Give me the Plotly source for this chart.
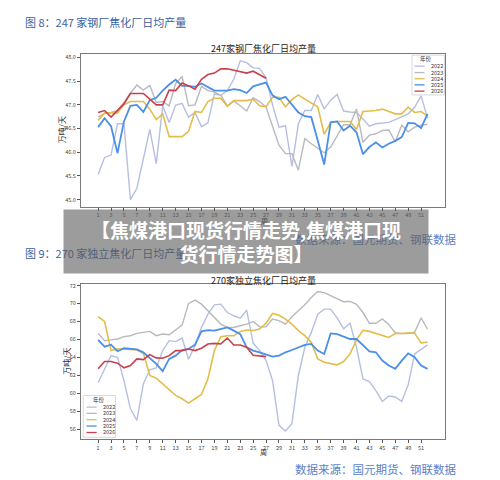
import plotly.graph_objects as go

weeks = list(range(1, 53))
weeks_2026 = list(range(1, 28))
years = ["2022", "2023", "2024", "2025", "2026"]

# Chart 1: 247 steel-mill coking plants (万吨/天)
top_2022 = [45.53, 45.89, 45.94, 46.60, 46.60, 45.00, 45.24, 45.83, 46.48, 45.76,
            46.98, 46.63, 46.99, 47.03, 46.74, 46.84, 46.54, 46.62, 47.23, 47.20,
            47.30, 47.54, 47.93, 47.89, 47.78, 47.77, 47.57, 47.00, 46.53, 46.56,
            45.70, 46.60, 46.88, 46.88, 47.22, 46.91, 47.10, 47.22, 46.87, 46.85,
            46.84, 46.70, 46.55, 46.60, 46.62, 46.63, 46.69, 46.75, 46.81, 46.95,
            47.19, 46.72]
top_2023 = [46.74, 46.82, 46.84, 46.88, 47.05, 47.25, 47.42, 47.31, 47.41, 47.05,
            47.07, 46.98, 47.45, 47.60, 46.98, 47.00, 47.39, 47.30, 47.27, 47.20,
            46.98, 47.08, 46.98, 46.87, 47.15, 47.07, 46.95, 46.56, 46.15, 45.97,
            45.97, 45.62, 46.29, 46.18, 46.08, 45.99, 46.11, 46.36, 46.58, 46.58,
            46.91, 46.21, 46.36, 46.39, 46.46, 46.47, 46.22, 46.57, 46.43, 46.53,
            46.57, 46.59]
top_2024 = [46.67, 46.83, 46.83, 46.83, 47.00, 47.07, 47.07, 47.07, 46.91, 46.69,
            46.81, 46.33, 46.33, 46.33, 46.44, 46.86, 46.84, 47.07, 47.14, 47.14,
            46.97, 47.09, 47.09, 47.09, 47.12, 46.98, 46.96, 47.16, 47.16, 46.96,
            47.11, 47.21, 47.12, 47.04, 46.96, 46.38, 46.63, 46.65, 46.65, 46.65,
            46.48, 46.86, 46.87, 46.88, 46.91, 46.86, 46.81, 46.81, 46.95, 46.84,
            46.86, 46.76]
top_2025 = [46.53, 46.72, 46.55, 45.98, 46.65, 46.98, 47.00, 46.85, 47.10, 47.15,
            47.30, 47.43, 47.53, 47.40, 47.40, 47.38, 47.45, 47.37, 47.30, 47.30,
            47.30, 47.33, 47.31, 47.25, 47.39, 47.43, 47.47, 47.20, 47.12, 47.17,
            47.00, 46.84, 46.76, 46.74, 46.25, 45.74, 46.63, 46.65, 46.46, 46.56,
            46.42, 45.96, 46.11, 46.21, 46.10, 46.18, 46.24, 46.32, 46.62, 46.61,
            46.51, 46.81]
top_2026 = [46.84, 46.88, 46.74, 46.88, 47.02, 47.24, 47.24, 47.24, 47.12, 47.00,
            47.00, 47.31, 47.30, 47.46, 47.40, 47.33, 47.54, 47.64, 47.67, 47.76,
            47.76, 47.73, 47.71, 47.67, 47.71, 47.63, 47.56]

# Chart 2: 270 independent coking plants (万吨/天)
bot_2022 = [61.18, 62.62, 64.21, 64.02, 61.43, 58.29, 57.00, 61.06, 62.62, 62.84,
            64.76, 65.87, 65.76, 66.16, 63.80, 65.31, 67.35, 68.82, 69.86, 69.93,
            69.00, 68.64, 68.38, 69.27, 65.60, 64.76, 63.65, 61.43, 56.44, 55.81,
            56.63, 61.99, 65.13, 66.79, 68.82, 69.38, 69.38, 68.40, 67.20, 67.80,
            65.13, 61.60, 61.30, 60.30, 59.10, 59.70, 59.60, 59.10, 60.95, 64.40,
            64.90, 65.40]
bot_2023 = [66.68, 65.87, 65.95, 66.05, 66.31, 66.42, 66.68, 66.79, 66.90, 66.42,
            66.60, 66.53, 67.05, 67.60, 70.01, 70.38, 69.93, 69.19, 68.45, 67.71,
            67.34, 67.34, 67.53, 67.71, 68.00, 67.40, 67.42, 68.27, 68.10, 67.71,
            68.53, 69.19, 69.86, 70.68, 71.34, 71.22, 70.86, 70.49, 70.20, 70.23,
            69.92, 69.00, 67.80, 67.80, 68.28, 67.65, 66.75, 66.65, 66.65, 66.80,
            68.40, 67.14]
bot_2024 = [68.53, 68.01, 64.76, 64.94, 64.94, 64.87, 64.83, 64.46, 61.99, 61.69,
            61.06, 60.51, 59.77, 59.40, 58.92, 59.40, 59.88, 61.62, 64.76, 66.31,
            66.42, 66.42, 66.90, 67.05, 67.00, 67.16, 67.80, 68.90, 68.70, 68.27,
            67.71, 66.98, 66.42, 65.68, 63.84, 63.47, 63.36, 63.17, 63.54, 64.39,
            65.95, 67.02, 66.90, 66.65, 66.43, 66.22, 66.66, 66.66, 66.75, 66.70,
            65.62, 65.70]
bot_2025 = [65.95, 65.20, 65.42, 64.69, 65.02, 64.94, 64.90, 64.57, 63.95, 63.28,
            62.47, 63.84, 64.20, 64.83, 64.94, 65.42, 66.90, 67.05, 66.98, 67.16,
            67.34, 66.98, 66.60, 65.13, 64.76, 64.57, 64.31, 64.09, 64.20, 64.57,
            64.83, 65.13, 65.39, 65.50, 64.76, 64.39, 66.68, 66.60, 66.31, 66.05,
            66.05, 65.31, 64.68, 64.57, 63.65, 63.10, 62.73, 63.65, 64.46, 64.02,
            63.10, 62.73]
bot_2026 = [62.73, 63.54, 63.54, 63.36, 62.84, 63.10, 63.84, 63.76, 64.31, 63.95,
            63.91, 64.20, 64.76, 64.76, 64.94, 64.76, 65.02, 65.50, 65.57, 65.50,
            66.16, 65.39, 65.39, 65.13, 64.25, 64.15, 64.09]

x_ticks = list(range(1, 52, 2))
top_yticks = [45.0, 45.5, 46.0, 46.5, 47.0, 47.5, 48.0]
bot_yticks = [56, 58, 60, 62, 64, 66, 68, 70, 72]

colors = {"2022": "#b7bfe0", "2023": "#b9b9be", "2024": "#e3bd4a",
          "2025": "#4a8fe8", "2026": "#c9404c"}
widths = {"2022": 1.4, "2023": 1.4, "2024": 1.6, "2025": 1.8, "2026": 1.6}

top_series = [top_2022, top_2023, top_2024, top_2025, top_2026]
bot_series = [bot_2022, bot_2023, bot_2024, bot_2025, bot_2026]

W, H = 500, 480
def px(x):
    return x / W
def py(y):
    return 1 - y / H

CJK = "Noto Sans CJK SC"
fig = go.Figure()

for yr, ys in zip(years, top_series):
    xs = weeks_2026 if yr == "2026" else weeks
    fig.add_trace(go.Scatter(x=xs, y=ys, mode="lines", name=yr, showlegend=False,
                             line=dict(color=colors[yr], width=widths[yr]),
                             xaxis="x", yaxis="y"))
for yr, ys in zip(years, bot_series):
    xs = weeks_2026 if yr == "2026" else weeks
    fig.add_trace(go.Scatter(x=xs, y=ys, mode="lines", name=yr, showlegend=False,
                             line=dict(color=colors[yr], width=widths[yr]),
                             xaxis="x2", yaxis="y2"))

axis_common = dict(showgrid=False, zeroline=False, showline=True, mirror=True,
                   linecolor="#7a7a7a", linewidth=1, ticks="outside", ticklen=3,
                   tickcolor="#555", tickfont=dict(size=5.5, color="#444", family=CJK))

fig.update_layout(
    width=W, height=H, margin=dict(l=0, r=0, t=0, b=0),
    paper_bgcolor="white", plot_bgcolor="white",
    font=dict(family=CJK), showlegend=False,
    xaxis=dict(domain=[px(81), px(445)], range=[-1.65, 54.7], tickvals=x_ticks,
               anchor="y", **axis_common),
    yaxis=dict(domain=[py(205), py(51)], range=[44.85, 48.08], tickvals=top_yticks,
               ticktext=[f"{v:.1f}" for v in top_yticks], anchor="x", **axis_common),
    xaxis2=dict(domain=[px(81), px(445)], range=[-1.65, 54.7], tickvals=x_ticks,
                anchor="y2", **axis_common),
    yaxis2=dict(domain=[py(439), py(283)], range=[54.89, 72.15], tickvals=bot_yticks,
                anchor="x2", **axis_common),
)

shapes = []
ann = []

def add_legend(box, title_xy, line_x, text_x, entry_ys):
    x0, y0, x1, y1 = box
    shapes.append(dict(type="rect", xref="paper", yref="paper", layer="above",
                       x0=px(x0), x1=px(x1), y0=py(y1), y1=py(y0),
                       fillcolor="rgba(255,255,255,0.9)",
                       line=dict(color="#cfcfcf", width=0.8)))
    ann.append(dict(text="年份", x=px(title_xy[0]), y=py(title_xy[1]), xanchor="center",
                    yanchor="middle", font=dict(size=5.5, color="#333", family=CJK)))
    for yr, ey in zip(years, entry_ys):
        shapes.append(dict(type="line", xref="paper", yref="paper", layer="above",
                           x0=px(line_x[0]), x1=px(line_x[1]), y0=py(ey), y1=py(ey),
                           line=dict(color=colors[yr], width=1.3)))
        ann.append(dict(text=yr, x=px(text_x), y=py(ey), xanchor="left", yanchor="middle",
                        font=dict(size=5.5, color="#333", family=CJK)))

add_legend((412, 52.5, 444.5, 92.5), (426, 56), (414.5, 424.5), 428.5,
           [63.5, 70, 76.2, 82.4, 88.7])
add_legend((83.3, 395, 115.5, 437), (99, 399.5), (86.5, 96.7), 101,
           [406.7, 412.9, 419.3, 425.7, 432.2])

heading_color = "#3d5f9e"
source_color = "#5b7fc4"
ann.append(dict(text="图 8：247 家钢厂焦化厂日均产量", x=px(23), y=py(19), xanchor="left",
                yanchor="middle", font=dict(size=11, color=heading_color, family=CJK)))
ann.append(dict(text="247家钢厂焦化厂日均产量", x=px(263), y=py(46), xanchor="center",
                yanchor="middle", font=dict(size=9, color="#222", family=CJK)))
ann.append(dict(text="万吨/天", x=px(61), y=py(128), textangle=-90, xanchor="center",
                yanchor="middle", font=dict(size=8, color="#333", family=CJK)))
ann.append(dict(text="周", x=px(264), y=py(219), xanchor="center", yanchor="middle",
                font=dict(size=7, color="#333", family=CJK)))
ann.append(dict(text="数据来源：国元期货、钢联数据", x=px(458), y=py(237), xanchor="right",
                yanchor="middle", font=dict(size=11.5, color=source_color, family=CJK)))
ann.append(dict(text="图 9：270 家独立焦化厂日均产量", x=px(23), y=py(252), xanchor="left",
                yanchor="middle", font=dict(size=11, color=heading_color, family=CJK)))
ann.append(dict(text="270家独立焦化厂日均产量", x=px(263), y=py(279), xanchor="center",
                yanchor="middle", font=dict(size=9, color="#222", family=CJK)))
ann.append(dict(text="万吨/天", x=px(67), y=py(361), textangle=-90, xanchor="center",
                yanchor="middle", font=dict(size=8, color="#333", family=CJK)))
ann.append(dict(text="周", x=px(263), y=py(452), xanchor="center", yanchor="middle",
                font=dict(size=7, color="#333", family=CJK)))
ann.append(dict(text="数据来源：国元期货、钢联数据", x=px(458), y=py(469), xanchor="right",
                yanchor="middle", font=dict(size=11.5, color=source_color, family=CJK)))
# overlay banner
ann.append(dict(text="<b>【焦煤港口现货行情走势,焦煤港口现</b><br><b>货行情走势图】</b>",
                x=px(246), y=py(239.5), xanchor="center", yanchor="middle",
                width=364, height=63, align="center", valign="middle",
                bgcolor="rgba(95,95,95,0.62)", borderpad=0,
                font=dict(size=19, color="white", family=CJK)))
for a in ann:
    a.update(xref="paper", yref="paper", showarrow=False)
fig.update_layout(annotations=ann, shapes=shapes)

fig.write_html("out.html")
